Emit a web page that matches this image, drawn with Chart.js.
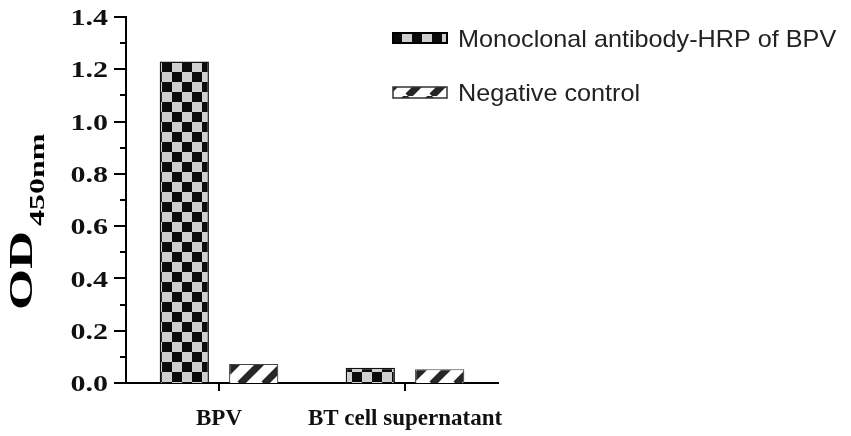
<!DOCTYPE html>
<html>
<head>
<meta charset="utf-8">
<script src="https://cdn.jsdelivr.net/npm/chart.js@4.4.1/dist/chart.umd.min.js"></script>
<style>
  html, body { margin: 0; padding: 0; background: #fff; }
  #wrap { position: relative; width: 851px; height: 436px; }
</style>
</head>
<body>
<div id="wrap"><canvas id="odChart"></canvas></div>
<script>
const categories = ["BPV", "BT cell supernatant"];
const seriesNames = ["Monoclonal antibody-HRP of BPV", "Negative control"];
const monoValues = [1.23, 0.058];
const negValues = [0.073, 0.053];
const yTickLabels = ["0.0", "0.2", "0.4", "0.6", "0.8", "1.0", "1.2", "1.4"];
const yMinorTicks = [0.1, 0.3, 0.5, 0.7, 0.9, 1.1, 1.3];

function checkerPattern() {
  const c = document.createElement("canvas");
  c.width = 20; c.height = 20;
  const g = c.getContext("2d");
  g.fillStyle = "#cfcfcf";
  g.fillRect(0, 0, 20, 20);
  g.fillStyle = "#0b0b0b";
  g.fillRect(0, 0, 10, 10);
  g.fillRect(10, 10, 10, 10);
  const p = g.createPattern(c, "repeat");
  p.setTransform(new DOMMatrix().translate(2, 2));
  return p;
}

function hatchPattern() {
  const s = 24;
  const c = document.createElement("canvas");
  c.width = s; c.height = s;
  const g = c.getContext("2d");
  g.fillStyle = "#fff";
  g.fillRect(0, 0, s, s);
  g.strokeStyle = "#262626";
  g.lineWidth = 7;
  for (let k = -1; k <= 1; k++) {
    g.beginPath();
    g.moveTo(k * s, s);
    g.lineTo(k * s + s, 0);
    g.stroke();
  }
  return g.createPattern(c, "repeat");
}

const checker = checkerPattern();
const hatch = hatchPattern();

// y axis: ticks (major + minor), stretched serif labels, OD450nm title, legend
const decorPlugin = {
  id: "decor",
  afterDraw(chart) {
    const ctx = chart.ctx;
    const y = chart.scales.y;
    const x0 = chart.chartArea.left;
    ctx.save();
    ctx.strokeStyle = "#000";
    ctx.lineWidth = 2;
    yTickLabels.forEach(lbl => {
      const py = Math.round(y.getPixelForValue(parseFloat(lbl)));
      ctx.beginPath();
      ctx.moveTo(x0 - 12, py);
      ctx.lineTo(x0, py);
      ctx.stroke();
    });
    yMinorTicks.forEach(v => {
      const py = Math.round(y.getPixelForValue(v));
      ctx.beginPath();
      ctx.moveTo(x0 - 6, py);
      ctx.lineTo(x0, py);
      ctx.stroke();
    });

    ctx.fillStyle = "#111";
    ctx.font = "bold 24px 'Liberation Serif', 'Times New Roman', serif";
    ctx.textAlign = "right";
    ctx.textBaseline = "middle";
    yTickLabels.forEach(lbl => {
      const py = y.getPixelForValue(parseFloat(lbl));
      ctx.save();
      ctx.translate(108, py + 2);
      ctx.scale(1.25, 1);
      ctx.fillText(lbl, 0, 0);
      ctx.restore();
    });

    // axis title with subscript
    ctx.save();
    ctx.translate(32, 310);
    ctx.rotate(-Math.PI / 2);
    ctx.textAlign = "left";
    ctx.textBaseline = "alphabetic";
    ctx.fillStyle = "#000";
    ctx.save();
    ctx.scale(1.55, 1);
    ctx.font = "bold 34px 'Liberation Serif', 'Times New Roman', serif";
    ctx.fillText("OD", 0, 0);
    ctx.restore();
    ctx.save();
    ctx.translate(84, 12);
    ctx.scale(1.6, 1);
    ctx.font = "bold 20px 'Liberation Serif', 'Times New Roman', serif";
    ctx.fillText("450nm", 0, 0);
    ctx.restore();
    ctx.restore();

    // legend
    const rows = [
      { fill: checker, stroke: "#000", lw: 2, top: 33, h: 10, base: 47 },
      { fill: hatch, stroke: "#333", lw: 1.5, top: 87, h: 11, base: 101 }
    ];
    rows.forEach((r, i) => {
      ctx.fillStyle = r.fill;
      ctx.fillRect(393, r.top, 54, r.h);
      ctx.strokeStyle = r.stroke;
      ctx.lineWidth = r.lw;
      ctx.strokeRect(393, r.top, 54, r.h);
      ctx.save();
      ctx.translate(458, r.base);
      ctx.scale(1.05, 1);
      ctx.fillStyle = "#222";
      ctx.font = "24px 'Liberation Sans', Arial, sans-serif";
      ctx.textAlign = "left";
      ctx.textBaseline = "alphabetic";
      ctx.fillText(seriesNames[i], 0, 0);
      ctx.restore();
    });
    ctx.restore();
  }
};

new Chart(document.getElementById("odChart").getContext("2d"), {
  type: "bar",
  data: {
    labels: categories,
    datasets: [
      {
        label: seriesNames[0],
        data: monoValues,
        backgroundColor: checker,
        borderColor: "#111",
        borderWidth: 1.5,
        categoryPercentage: 0.746,
        barPercentage: 0.71
      },
      {
        label: seriesNames[1],
        data: negValues,
        backgroundColor: hatch,
        borderColor: "#444",
        borderWidth: 1.2,
        categoryPercentage: 0.746,
        barPercentage: 0.71
      }
    ]
  },
  options: {
    responsive: true,
    maintainAspectRatio: false,
    animation: false,
    layout: { padding: { top: 17, right: 353, left: 0, bottom: 0 } },
    plugins: { legend: { display: false }, tooltip: { enabled: false } },
    scales: {
      x: {
        grid: { display: true, offset: false, drawOnChartArea: false, tickLength: 8, color: "#000", lineWidth: 2 },
        border: { display: true, color: "#000", width: 2 },
        ticks: {
          color: "#111",
          padding: 14,
          maxRotation: 0,
          autoSkip: false,
          font: { family: "'Liberation Serif', 'Times New Roman', serif", size: 23, weight: "bold" }
        },
        afterFit(scale) { scale.height = 53; }
      },
      y: {
        min: 0,
        max: 1.4,
        grid: { display: false },
        border: { display: true, color: "#000", width: 2 },
        ticks: { display: false, stepSize: 0.2 },
        afterFit(scale) { scale.width = 126; }
      }
    }
  },
  plugins: [decorPlugin]
});
</script>
</body>
</html>
